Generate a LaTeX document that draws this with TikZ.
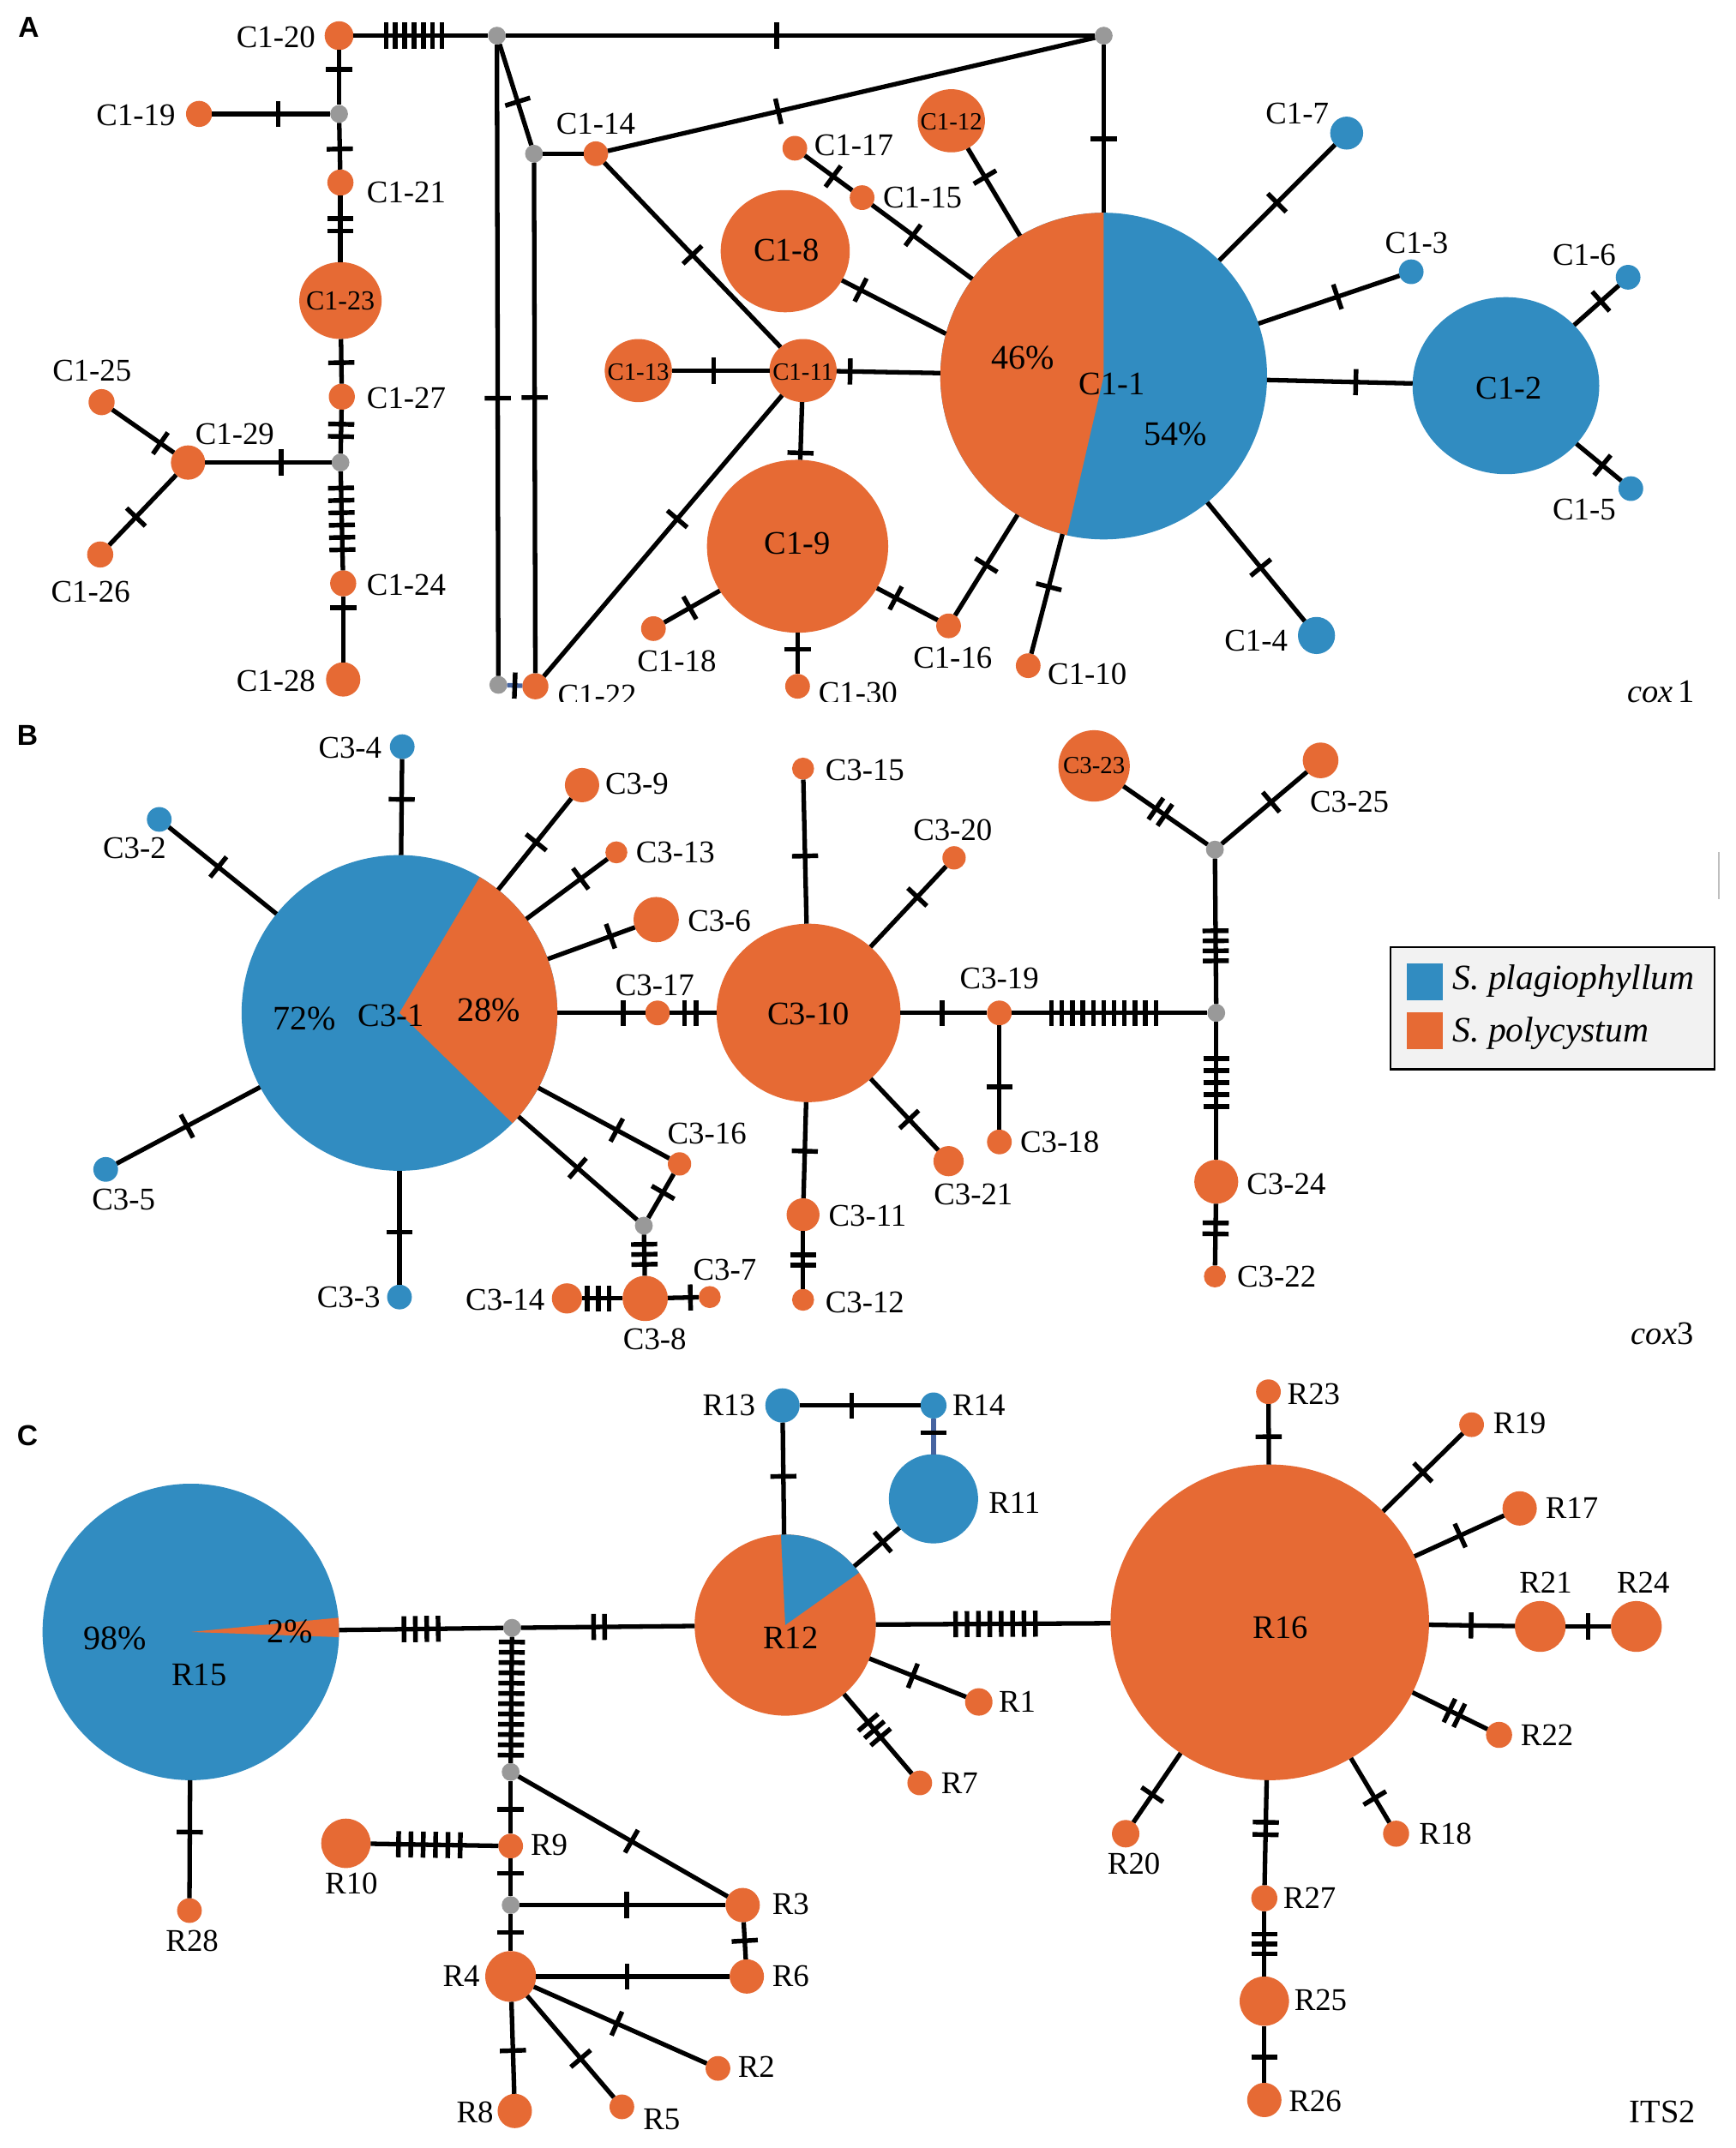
\documentclass[tikz,border=0pt]{standalone}
\usepackage{fontspec}
\setmainfont{Liberation Serif}
\setsansfont{Liberation Sans}
\usetikzlibrary{shapes.geometric,decorations.markings}
\definecolor{orC}{RGB}{230,106,52}
\definecolor{blC}{RGB}{49,140,193}
\definecolor{grC}{RGB}{153,153,153}
\definecolor{lnB}{RGB}{70,100,160}
\definecolor{legbg}{RGB}{242,242,242}
\tikzset{
 hap/.style={ellipse, inner sep=0pt, outer sep=0pt, draw=none},
 edge/.style={line width=3.3pt, draw=black},
 mut/.style n args={3}{postaction={decorate, decoration={markings, mark=at position #1 with {\foreach \k in {1,...,#2}{\pgfmathsetmacro\tkoff{(\k-(#2+1)/2)*#3}\draw[line width=3.4pt, black, line cap=butt] (\tkoff pt,-9.5pt) -- (\tkoff pt,9.5pt);}}}}},
 lab/.style={font=\fontsize{23}{24}\selectfont, inner sep=0pt},
 blab/.style={font=\fontsize{24}{25}\selectfont, inner sep=0pt},
 pct/.style={font=\fontsize{25}{26}\selectfont, inner sep=0pt},
 slab/.style={font=\fontsize{18}{19}\selectfont, inner sep=0pt},
 plab/.style={font=\sffamily\bfseries\fontsize{21}{22}\selectfont, inner sep=0pt},
 leg/.style={font=\fontsize{26}{27}\selectfont\itshape, inner sep=0pt},
}
\newcommand{\hc}[5]{\node[hap, fill=#2, minimum width=#5, minimum height=#5] (#1) at (#3,#4) {};}
\newcommand{\he}[6]{\node[hap, fill=#2, minimum width=#5, minimum height=#6] (#1) at (#3,#4) {};}
\newcommand{\hp}[4]{\node[hap, minimum width=#4, minimum height=#4] (#1) at (#2,#3) {};}
\begin{document}
\begin{tikzpicture}[x=1pt,y=-1pt]
\fill[white] (0,0) rectangle (1264,1565);
\useasboundingbox (0,0) rectangle (1264,1565);
% ================= PANEL A =================
\begin{scope}
\clip (0,0) rectangle (1264,511);
\fill[blC] (804,274) circle[radius=119];
\fill[orC] (804,274) -- ++(103:119) arc[start angle=103, end angle=270, radius=119] -- cycle;
\hp{c11}{804}{274}{238}
\hc{g1}{grC}{362}{26}{13}
\hc{g2}{grC}{804}{26}{13}
\hc{g3}{grC}{389}{112}{13}
\hc{g4}{grC}{363}{499}{13}
\hc{g5}{grC}{247}{83}{13}
\hc{g6}{grC}{248}{337}{13}
\hc{c120}{orC}{247}{26}{21}
\hc{c119}{orC}{145}{83}{19}
\hc{c121}{orC}{248}{133}{19}
\he{c123}{orC}{248}{219}{60}{56}
\hc{c127}{orC}{249}{289}{19}
\hc{c129}{orC}{137}{337}{25}
\hc{c125}{orC}{74}{293}{19}
\hc{c126}{orC}{73}{404}{19}
\hc{c124}{orC}{250}{425}{19}
\hc{c128}{orC}{250}{495}{25}
\hc{c114}{orC}{434}{112}{18}
\hc{c117}{orC}{579}{108}{18}
\hc{c115}{orC}{628}{144}{18}
\he{c112}{orC}{693}{88}{49}{46}
\he{c18}{orC}{572}{183}{94}{89}
\he{c113}{orC}{465}{270}{49}{46}
\he{c111}{orC}{585}{270}{49}{46}
\he{c19}{orC}{581}{398}{132}{126}
\hc{c118}{orC}{476}{458}{18}
\hc{c130}{orC}{581}{500}{18}
\hc{c116}{orC}{691}{456}{18}
\hc{c110}{orC}{749}{485}{18}
\hc{c122}{orC}{390}{500}{19}
\hc{c17}{blC}{981}{97}{24}
\hc{c13}{blC}{1028}{198}{18}
\he{c12}{blC}{1097}{281}{136}{129}
\hc{c16}{blC}{1186}{202}{18}
\hc{c15}{blC}{1188}{356}{18}
\hc{c14}{blC}{959}{463}{27}
% edges
\draw[edge, mut={0.45}{7}{6.8}] (c120) -- (g1);
\draw[edge, mut={0.46}{1}{8}] (g1) -- (g2);
\draw[edge, mut={0.56}{1}{8}] (g2) -- (c11);
\draw[edge, mut={0.35}{1}{8}] (c114) -- (g2);
\draw[edge, mut={0.57}{1}{8}] (g1) -- (g3);
\draw[edge] (g3) -- (c114);
\draw[edge, mut={0.56}{1}{8}] (g1) -- (g4);
\draw[edge, mut={0.46}{1}{8}] (g3) -- (c122);
\draw[edge, draw=lnB, mut={0.5}{1}{8}] (g4) -- (c122);
\draw[edge, mut={0.5}{1}{8}] (c114) -- (c111);
\draw[edge, mut={0.56}{1}{8}] (c122) -- (c111);
\draw[edge, mut={0.43}{1}{8}] (c113) -- (c111);
\draw[edge, mut={0.13}{1}{8}] (c111) -- (c11);
\draw[edge, mut={0.88}{1}{8}] (c111) -- (c19);
\draw[edge, mut={0.54}{1}{8}] (c19) -- (c118);
\draw[edge, mut={0.4}{1}{8}] (c19) -- (c130);
\draw[edge, mut={0.31}{1}{8}] (c19) -- (c116);
\draw[edge, mut={0.5}{1}{8}] (c116) -- (c11);
\draw[edge, mut={0.56}{1}{8}] (c110) -- (c11);
\draw[edge, mut={0.18}{1}{8}] (c18) -- (c11.165);
\draw[edge, mut={0.6}{1}{8}] (c117) -- (c115);
\draw[edge, mut={0.41}{1}{8}] (c115) -- (c11);
\draw[edge, mut={0.33}{1}{8}] (c112) -- (c11);
\draw[edge, mut={0.5}{1}{8}] (c11) -- (c17);
\draw[edge, mut={0.56}{1}{8}] (c11) -- (c13);
\draw[edge, mut={0.61}{1}{8}] (c11) -- (c12);
\draw[edge, mut={0.6}{1}{8}] (c12) -- (c16);
\draw[edge, mut={0.58}{1}{8}] (c12) -- (c15);
\draw[edge, mut={0.55}{1}{8}] (c11) -- (c14);
\draw[edge, mut={0.35}{1}{8}] (c120) -- (g5);
\draw[edge, mut={0.56}{1}{8}] (c119) -- (g5);
\draw[edge, mut={0.56}{1}{8}] (g5) -- (c121);
\draw[edge, mut={0.44}{2}{9}] (c121) -- (c123);
\draw[edge, mut={0.53}{1}{8}] (c123) -- (c127);
\draw[edge, mut={0.47}{2}{9}] (c127) -- (g6);
\draw[edge, mut={0.6}{1}{8}] (c129) -- (g6);
\draw[edge, mut={0.78}{1}{8}] (c125) -- (c129);
\draw[edge, mut={0.4}{1}{8}] (c126) -- (c129);
\draw[edge, mut={0.48}{6}{9}] (g6) -- (c124);
\draw[edge, mut={0.17}{1}{8}] (c124) -- (c128);
% labels
\node[plab] (lA) at (21,20) {A};
\node[lab] (l120) at (201,27) {C1-20};
\node[lab] (l119) at (99,84) {C1-19};
\node[lab] (l121) at (296,140) {C1-21};
\node[font=\fontsize{20}{21}\selectfont, inner sep=0pt] (l123) at (248,219) {C1-23};
\node[lab] (l127) at (296,290) {C1-27};
\node[lab] (l129) at (171,316) {C1-29};
\node[lab] (l125) at (67,270) {C1-25};
\node[lab] (l126) at (66,431) {C1-26};
\node[lab] (l124) at (296,426) {C1-24};
\node[lab] (l128) at (201,496) {C1-28};
\node[lab] (l114) at (434,90) {C1-14};
\node[lab] (l117) at (622,106) {C1-17};
\node[lab] (l115) at (672,144) {C1-15};
\node[slab] (l112) at (693,89) {C1-12};
\node[blab] (l18) at (573,182) {C1-8};
\node[slab] (l113) at (465,271) {C1-13};
\node[slab] (l111) at (585,271) {C1-11};
\node[blab] (l19) at (581,396) {C1-9};
\node[lab] (l118) at (493,482) {C1-18};
\node[lab] (l130) at (625,505) {C1-30};
\node[lab] (l116) at (694,479) {C1-16};
\node[lab] (l110) at (792,491) {C1-10};
\node[lab] (l122) at (435,507) {C1-22};
\node[blab] (l11) at (810,280) {C1-1};
\node[pct] (p46) at (745,261) {46\%};
\node[pct] (p54) at (856,316) {54\%};
\node[lab] (l17) at (945,83) {C1-7};
\node[lab] (l13) at (1032,177) {C1-3};
\node[blab] (l12) at (1099,283) {C1-2};
\node[lab] (l16) at (1154,186) {C1-6};
\node[lab] (l15) at (1154,371) {C1-5};
\node[lab] (l14) at (915,467) {C1-4};
\end{scope}
\node[blab] (lcox1) at (1210,504) {\textit{cox}\,1};
% ================= PANEL B =================
\fill[blC] (291,738) circle[radius=115];
\fill[orC] (291,738) -- ++(-59.4:115) arc[start angle=-59.4, end angle=44.3, radius=115] -- cycle;
\hp{b1}{291}{738}{230}
\hc{b4}{blC}{293}{544}{18}
\hc{b2}{blC}{116}{597}{18}
\hc{b5}{blC}{77}{852}{18}
\hc{b3}{blC}{291}{945}{18}
\hc{b9}{orC}{424}{572}{25}
\hc{b13}{orC}{449}{621}{16}
\hc{b6}{orC}{478}{670}{33}
\hc{b17}{orC}{479}{738}{18}
\he{b10}{orC}{589}{738}{134}{130}
\hc{b16}{orC}{495}{848}{17}
\hc{gB}{grC}{469}{893}{13}
\hc{b8}{orC}{470}{946}{33}
\hc{b14}{orC}{413}{946}{22}
\hc{b7}{orC}{517}{945}{16}
\hc{b11}{orC}{585}{885}{24}
\hc{b12}{orC}{585}{947}{16}
\hc{b15}{orC}{585}{560}{16}
\hc{b20}{orC}{695}{625}{17}
\hc{b21}{orC}{691}{846}{22}
\hc{b19}{orC}{728}{738}{18}
\hc{b18}{orC}{728}{832}{18}
\hc{g7}{grC}{886}{738}{13}
\hc{g8}{grC}{885}{619}{13}
\hc{b23}{orC}{797}{558}{52}
\hc{b25}{orC}{962}{554}{26}
\hc{b24}{orC}{886}{861}{32}
\hc{b22}{orC}{885}{930}{16}
\draw[edge, mut={0.42}{1}{8}] (b4) -- (b1);
\draw[edge, mut={0.46}{1}{8}] (b2) -- (b1);
\draw[edge, mut={0.49}{1}{8}] (b5) -- (b1);
\draw[edge, mut={0.54}{1}{8}] (b1) -- (b3);
\draw[edge, mut={0.52}{1}{8}] (b1) -- (b9);
\draw[edge, mut={0.67}{1}{8}] (b1) -- (b13);
\draw[edge, mut={0.72}{1}{8}] (b1) -- (b6);
\draw[edge, mut={0.75}{1}{8}] (b1) -- (b17);
\draw[edge, mut={0.44}{2}{8.5}] (b17) -- (b10);
\draw[edge, mut={0.6}{1}{8}] (b1) -- (b16);
\draw[edge, mut={0.5}{1}{8}] (b1) -- (gB);
\draw[edge, mut={0.42}{1}{8}] (b16) -- (gB);
\draw[edge, mut={0.48}{3}{7.3}] (gB) -- (b8);
\draw[edge, mut={0.4}{3}{8}] (b14) -- (b8);
\draw[edge, mut={0.73}{1}{8}] (b8) -- (b7);
\draw[edge, mut={0.47}{1}{8}] (b10) -- (b15);
\draw[edge, mut={0.62}{1}{8}] (b10) -- (b20);
\draw[edge, mut={0.57}{1}{8}] (b10) -- (b21);
\draw[edge, mut={0.51}{1}{8}] (b10) -- (b11);
\draw[edge, mut={0.5}{2}{7.6}] (b11) -- (b12);
\draw[edge, mut={0.48}{1}{8}] (b10) -- (b19);
\draw[edge, mut={0.59}{1}{8}] (b19) -- (b18);
\draw[edge, mut={0.47}{11}{7.6}] (b19) -- (g7);
\draw[edge, mut={0.4}{4}{7.3}] (g7) -- (g8);
\draw[edge, mut={0.44}{2}{8}] (b23) -- (g8);
\draw[edge, mut={0.58}{1}{8}] (g8) -- (b25);
\draw[edge, mut={0.44}{5}{8.7}] (g7) -- (b24);
\draw[edge, mut={0.4}{2}{8}] (b24) -- (b22);
\node[plab] (lB) at (20,536) {B};
\node[lab] (l34) at (255,545) {C3-4};
\node[lab] (l32) at (98,618) {C3-2};
\node[lab] (l35) at (90,874) {C3-5};
\node[lab] (l33) at (254,945) {C3-3};
\node[lab] (l39) at (464,571) {C3-9};
\node[lab] (l313) at (492,621) {C3-13};
\node[lab] (l36) at (524,671) {C3-6};
\node[lab] (l317) at (477,718) {C3-17};
\node[lab] (l316) at (515,826) {C3-16};
\node[lab] (l314) at (368,947) {C3-14};
\node[lab] (l37) at (528,925) {C3-7};
\node[lab] (l38) at (477,976) {C3-8};
\node[pct] (p72) at (222,742) {72\%};
\node[blab] (l31) at (285,740) {C3-1};
\node[pct] (p28) at (356,736) {28\%};
\node[blab] (l310) at (589,739) {C3-10};
\node[lab] (l315) at (630,561) {C3-15};
\node[lab] (l320) at (694,605) {C3-20};
\node[lab] (l319) at (728,713) {C3-19};
\node[lab] (l318) at (772,832) {C3-18};
\node[lab] (l321) at (709,870) {C3-21};
\node[lab] (l311) at (632,886) {C3-11};
\node[lab] (l312) at (630,949) {C3-12};
\node[slab] (l323) at (797,558) {C3-23};
\node[lab] (l325) at (983,584) {C3-25};
\node[lab] (l324) at (937,863) {C3-24};
\node[lab] (l322) at (930,930) {C3-22};
\node[blab] (lcox3) at (1211,972) {\textit{cox}3};
% legend
\node[draw=black, line width=1.5pt, fill=legbg, minimum width=236, minimum height=89, inner sep=0pt] (legbox) at (1131,734.5) {};
\node[fill=blC, minimum width=26, minimum height=27, inner sep=0pt] (legb) at (1038,715.5) {};
\node[fill=orC, minimum width=26, minimum height=27, inner sep=0pt] (lego) at (1038,751) {};
\node[leg, anchor=west] (legtb) at (1058,715) {S. plagiophyllum};
\node[leg, anchor=west] (legto) at (1058,753) {S. polycystum};
\draw[line width=1pt, black!25] (1252,621) -- (1252,655);
% ================= PANEL C =================
\fill[blC] (139,1189) circle[radius=108];
\fill[orC] (139,1189) -- ++(-5.5:108) arc[start angle=-5.5, end angle=2, radius=108] -- cycle;
\hp{r15}{139}{1189}{216}
\fill[orC] (572,1184) circle[radius=66];
\fill[blC] (572,1184) -- ++(-92.7:66) arc[start angle=-92.7, end angle=-35.4, radius=66] -- cycle;
\hp{r12}{572}{1184}{132}
\hc{g9}{grC}{373}{1186}{13}
\hc{g10}{grC}{372}{1291}{13}
\hc{g11}{grC}{372}{1388}{13}
\hc{r28}{orC}{138}{1392}{18}
\hc{r9}{orC}{372}{1345}{18}
\hc{r10}{orC}{252}{1343}{36}
\hc{r3}{orC}{541}{1388}{25}
\hc{r6}{orC}{544}{1440}{25}
\hc{r4}{orC}{372}{1440}{37}
\hc{r2}{orC}{523}{1507}{18}
\hc{r5}{orC}{453}{1535}{18}
\hc{r8}{orC}{375}{1538}{25}
\hc{r13}{blC}{570}{1024}{25}
\hc{r14}{blC}{680}{1024}{19}
\hc{r11}{blC}{680}{1092}{65}
\he{r16}{orC}{925}{1182}{232}{230}
\hc{r23}{orC}{924}{1014}{18}
\hc{r19}{orC}{1072}{1038}{18}
\hc{r17}{orC}{1107}{1099}{25}
\hc{r21}{orC}{1122}{1185}{37}
\hc{r24}{orC}{1192}{1185}{37}
\hc{r22}{orC}{1092}{1264}{19}
\hc{r18}{orC}{1017}{1336}{19}
\hc{r20}{orC}{820}{1336}{20}
\hc{r27}{orC}{921}{1383}{19}
\hc{r25}{orC}{921}{1458}{36}
\hc{r26}{orC}{921}{1530}{25}
\hc{r1}{orC}{713}{1240}{20}
\hc{r7}{orC}{670}{1299}{18}
\draw[edge, mut={0.5}{4}{8.3}] (r15) -- (g9);
\draw[edge, mut={0.45}{2}{8}] (g9) -- (r12);
\draw[edge, mut={0.44}{1}{8}] (r15) -- (r28);
\draw[edge, mut={0.49}{12}{7.5}] (g9) -- (g10);
\draw[edge, mut={0.54}{1}{8}] (g10) -- (r9);
\draw[edge, mut={0.46}{6}{9}] (r10) -- (r9);
\draw[edge, mut={0.54}{1}{8}] (g10) -- (r3);
\draw[edge, mut={0.4}{1}{8}] (r9) -- (g11);
\draw[edge, mut={0.52}{1}{8}] (g11) -- (r3);
\draw[edge, mut={0.5}{1}{8}] (g11) -- (r4);
\draw[edge, mut={0.5}{1}{8}] (r3) -- (r6);
\draw[edge, mut={0.47}{1}{8}] (r4) -- (r6);
\draw[edge, mut={0.48}{1}{8}] (r4) -- (r2);
\draw[edge, mut={0.62}{1}{8}] (r4) -- (r5);
\draw[edge, mut={0.53}{1}{8}] (r4) -- (r8);
\draw[edge, mut={0.52}{1}{8}] (r12) -- (r13);
\draw[edge, mut={0.43}{1}{8}] (r13) -- (r14);
\draw[edge, draw=lnB, mut={0.4}{1}{8}] (r14) -- (r11);
\draw[edge, mut={0.37}{1}{8}] (r11) -- (r12);
\draw[edge, mut={0.51}{8}{8.3}] (r12) -- (r16);
\draw[edge, mut={0.45}{1}{8}] (r12) -- (r1);
\draw[edge, mut={0.45}{3}{7}] (r12) -- (r7);
\draw[edge, mut={0.46}{1}{8}] (r16) -- (r23);
\draw[edge, mut={0.5}{1}{8}] (r16) -- (r19);
\draw[edge, mut={0.51}{1}{8}] (r16) -- (r17);
\draw[edge, mut={0.49}{1}{8}] (r16) -- (r21);
\draw[edge, mut={0.5}{1}{8}] (r21) -- (r24);
\draw[edge, mut={0.56}{2}{8}] (r16) -- (r22);
\draw[edge, mut={0.62}{1}{8}] (r16) -- (r18);
\draw[edge, mut={0.6}{1}{8}] (r16) -- (r20);
\draw[edge, mut={0.46}{2}{9}] (r16) -- (r27);
\draw[edge, mut={0.5}{3}{7.2}] (r27) -- (r25);
\draw[edge, mut={0.55}{1}{8}] (r25) -- (r26);
\node[plab] (lC) at (20,1046) {C};
\node[pct] (p98) at (84,1194) {98\%};
\node[blab] (lr15) at (145,1220) {R15};
\node[pct] (p2) at (211,1189) {2\%};
\node[lab] (lr28) at (140,1414) {R28};
\node[lab] (lr10) at (256,1372) {R10};
\node[lab] (lr9) at (400,1344) {R9};
\node[lab] (lr3) at (576,1387) {R3};
\node[lab] (lr4) at (336,1440) {R4};
\node[lab] (lr6) at (576,1440) {R6};
\node[lab] (lr2) at (551,1506) {R2};
\node[lab] (lr5) at (482,1544) {R5};
\node[lab] (lr8) at (346,1539) {R8};
\node[lab] (lr13) at (531,1024) {R13};
\node[blab] (lr12) at (576,1193) {R12};
\node[lab] (lr14) at (713,1024) {R14};
\node[lab] (lr11) at (739,1095) {R11};
\node[lab] (lr1) at (741,1240) {R1};
\node[lab] (lr7) at (699,1299) {R7};
\node[blab] (lr16) at (933,1186) {R16};
\node[lab] (lr23) at (957,1016) {R23};
\node[lab] (lr19) at (1107,1037) {R19};
\node[lab] (lr17) at (1145,1099) {R17};
\node[lab] (lr21) at (1126,1153) {R21};
\node[lab] (lr24) at (1197,1153) {R24};
\node[lab] (lr22) at (1127,1264) {R22};
\node[lab] (lr18) at (1053,1336) {R18};
\node[lab] (lr20) at (826,1358) {R20};
\node[lab] (lr27) at (954,1383) {R27};
\node[lab] (lr25) at (962,1457) {R25};
\node[lab] (lr26) at (958,1531) {R26};
\node[blab] (lits) at (1211,1539) {ITS2};
\end{tikzpicture}
\end{document}
